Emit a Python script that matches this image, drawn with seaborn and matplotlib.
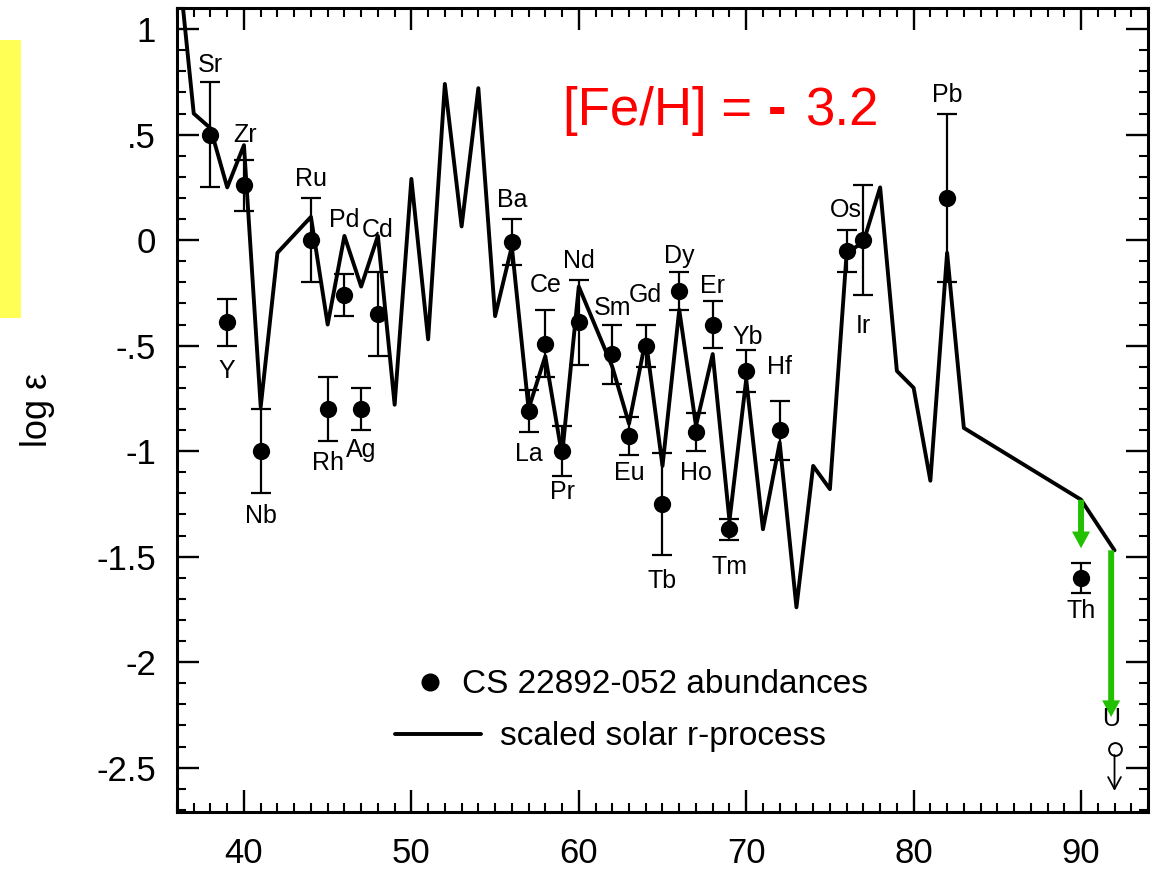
import matplotlib
matplotlib.use("Agg")
import matplotlib.pyplot as plt
import seaborn as sns
from matplotlib.patches import Rectangle
from matplotlib.lines import Line2D
from matplotlib.ticker import MultipleLocator, FuncFormatter

# Measured abundances of CS 22892-052
elements = ["Sr", "Y", "Zr", "Nb", "Ru", "Rh", "Pd", "Ag", "Cd", "Ba", "La", "Ce",
            "Pr", "Nd", "Sm", "Eu", "Gd", "Tb", "Dy", "Ho", "Er", "Tm", "Yb", "Hf",
            "Os", "Ir", "Pb", "Th"]
atomic_number = [38, 39, 40, 41, 44, 45, 46, 47, 48, 56, 57, 58,
                 59, 60, 62, 63, 64, 65, 66, 67, 68, 69, 70, 72,
                 76, 77, 82, 90]
log_eps = [0.50, -0.39, 0.26, -1.00, 0.00, -0.80, -0.26, -0.80, -0.35, -0.01, -0.81, -0.49,
           -1.00, -0.39, -0.54, -0.93, -0.50, -1.25, -0.24, -0.91, -0.40, -1.37, -0.62, -0.90,
           -0.05, 0.00, 0.20, -1.60]
log_eps_err = [0.25, 0.11, 0.12, 0.20, 0.20, 0.15, 0.10, 0.10, 0.20, 0.11, 0.10, 0.16,
               0.12, 0.20, 0.14, 0.09, 0.10, 0.24, 0.09, 0.09, 0.11, 0.05, 0.10, 0.14,
               0.10, 0.26, 0.40, 0.07]

# Uranium upper limit
u_element = "U"
u_z = 92
u_limit = -2.41

# Scaled solar-system r-process pattern
solar_z = [36, 37, 38, 39, 40, 41, 42, 44, 45, 46, 47, 48, 49, 50, 51, 52, 53, 54, 55, 56,
           57, 58, 59, 60, 62, 63, 64, 65, 66, 67, 68, 69, 70, 71, 72, 73, 74, 75, 76, 77,
           78, 79, 80, 81, 82, 83, 90, 92]
solar_log_eps = [1.38, 0.60, 0.53, 0.25, 0.45, -0.79, -0.06, 0.11, -0.40, 0.02, -0.22, 0.02,
                 -0.78, 0.29, -0.47, 0.74, 0.065, 0.72, -0.36, -0.03,
                 -0.80, -0.55, -1.02, -0.22, -0.60, -0.87, -0.47, -1.07, -0.33, -0.88,
                 -0.54, -1.33, -0.66, -1.37, -0.96, -1.74, -1.07, -1.18, -0.06, -0.01,
                 0.25, -0.62, -0.70, -1.14, -0.06, -0.89, -1.23, -1.47]

# Radioactive decay of Th and U since production
decay_from = [-1.23, -1.47]
decay_to = [-1.46, -2.26]
decay_x = [90.0, 91.8]

metallicity_parts = ["[Fe/H] =", "-", "3.2"]
legend_labels = ["CS 22892-052 abundances", "scaled solar r-process"]

# Element label placement: offset of label centre from the point, in pixels
# (dx to the right, dy downwards)
label_offset = {
    "Sr": (0, -70), "Y": (0, 49), "Zr": (1, -50), "Nb": (0, 65), "Ru": (0, -61),
    "Rh": (0, 54), "Pd": (0, -75), "Ag": (0, 41), "Cd": (0, -84), "Ba": (0, -42),
    "La": (0, 43), "Ce": (0, -59), "Pr": (0, 41), "Nd": (0, -61), "Sm": (0, -46),
    "Eu": (0, 37), "Gd": (0, -51), "Tb": (0, 77), "Dy": (0, -35), "Ho": (0, 41),
    "Er": (0, -39), "Tm": (0, 38), "Yb": (2, -34), "Hf": (0, -63), "Os": (-1, -41),
    "Ir": (0, 86), "Pb": (0, -103), "Th": (0, 33), "U": (-3, -30),
}

sns.set_style("ticks")
plt.rcParams["font.family"] = ["Liberation Sans", "DejaVu Sans"]
plt.rcParams["axes.unicode_minus"] = False
for key in ("text.color", "axes.labelcolor", "xtick.color", "ytick.color",
            "axes.edgecolor"):
    plt.rcParams[key] = "black"

W, H = 1160, 874
fig = plt.figure(figsize=(W / 100, H / 100), dpi=100)
fig.patch.set_facecolor("white")
ax = fig.add_axes([177 / W, 1 - 812 / H, (1148 - 177) / W, (812 - 8) / H])
ax.set_facecolor("white")

# yellow marker strip at the left edge
fig.patches.append(Rectangle((0, 1 - 318 / H), 21 / W, 278 / H, transform=fig.transFigure,
                             facecolor="#ffff55", edgecolor="none", zorder=0))

# solar r-process curve
sns.lineplot(x=solar_z, y=solar_log_eps, sort=False, estimator=None, color="black",
             linewidth=2.8, ax=ax, zorder=2)

# error bars and abundance points
ax.errorbar(atomic_number, log_eps, yerr=log_eps_err, fmt="none", ecolor="black",
            elinewidth=1.6, capsize=7, capthick=1.6, zorder=3)
sns.scatterplot(x=atomic_number, y=log_eps, color="black", s=155, linewidth=0,
                ax=ax, zorder=4)

# uranium upper limit
sns.scatterplot(x=[u_z], y=[u_limit], facecolor="white", edgecolor="black", s=85,
                linewidth=1.4, ax=ax, zorder=4)
ax.annotate("", xy=(u_z, u_limit - 0.20), xytext=(u_z, u_limit - 0.03),
            arrowprops=dict(arrowstyle="->,head_length=0.43,head_width=0.23",
                            mutation_scale=20, lw=1.3, color="black",
                            shrinkA=0, shrinkB=0), zorder=4)

# decay arrows
for x0, y0, y1 in zip(decay_x, decay_from, decay_to):
    ax.annotate("", xy=(x0, y1), xytext=(x0, y0),
                arrowprops=dict(arrowstyle="simple,head_width=13,head_length=12,tail_width=4.3",
                                mutation_scale=1, fc="#22c000", ec="none", lw=0,
                                shrinkA=0, shrinkB=0), zorder=5)

# element labels
px2pt = 72 / 100
for el, z, v in zip(elements + [u_element], atomic_number + [u_z], log_eps + [u_limit]):
    dx, dy = label_offset[el]
    ax.annotate(el, xy=(z, v), xytext=(dx * px2pt, -dy * px2pt), textcoords="offset points",
                ha="center", va="center", fontsize=18, color="black", zorder=6)

# metallicity annotation (heavy dash as in the original lettering)
base_y = 1 - 125 / H
fig.text(563 / W, base_y, metallicity_parts[0], color="#ff0000", fontsize=38,
         ha="left", va="baseline")
fig.text(777 / W, base_y, metallicity_parts[1], color="#ff0000", fontsize=40,
         fontweight="bold", ha="center", va="baseline")
fig.text(805 / W, base_y, metallicity_parts[2], color="#ff0000", fontsize=38,
         ha="left", va="baseline")

# axes
ax.set_xlim(36, 94)
ax.set_ylim(-2.71, 1.10)
ax.xaxis.set_major_locator(MultipleLocator(10))
ax.xaxis.set_minor_locator(MultipleLocator(1))
ax.yaxis.set_major_locator(MultipleLocator(0.5))
ax.yaxis.set_minor_locator(MultipleLocator(0.1))


def yfmt(v, pos):
    s = f"{v:g}"
    if s.startswith("0."):
        s = s[1:]
    elif s.startswith("-0."):
        s = "-" + s[2:]
    return s


ax.yaxis.set_major_formatter(FuncFormatter(yfmt))
ax.xaxis.set_major_formatter(FuncFormatter(lambda v, p: f"{v:g}"))
ax.tick_params(which="both", direction="in", top=True, right=True, colors="black")
ax.tick_params(which="major", length=16, width=1.7, labelsize=25)
ax.tick_params(which="minor", length=6.5, width=1.5)
ax.tick_params(axis="x", which="major", pad=18)
ax.tick_params(axis="y", which="major", pad=15)
for sp in ax.spines.values():
    sp.set_visible(True)
    sp.set_linewidth(2.2)
    sp.set_color("black")

ax.set_xlabel("")
ax.set_ylabel("log ε", fontsize=26, labelpad=30)

# legends
h_pts = Line2D([], [], marker="o", ls="none", color="black", markersize=12)
h_line = Line2D([], [], color="black", linewidth=2.8)
leg1 = ax.legend([h_pts], [legend_labels[0]], loc="center left",
                 bbox_to_anchor=(0.2434, 0.158), frameon=False, fontsize=24,
                 borderpad=0, borderaxespad=0, handlelength=1.0, handletextpad=0.46)
ax.add_artist(leg1)
ax.legend([h_line], [legend_labels[1]], loc="center left",
          bbox_to_anchor=(0.2245, 0.0933), frameon=False, fontsize=24,
          borderpad=0, borderaxespad=0, handlelength=2.58, handletextpad=0.57)

fig.savefig("out.png", dpi=100)
